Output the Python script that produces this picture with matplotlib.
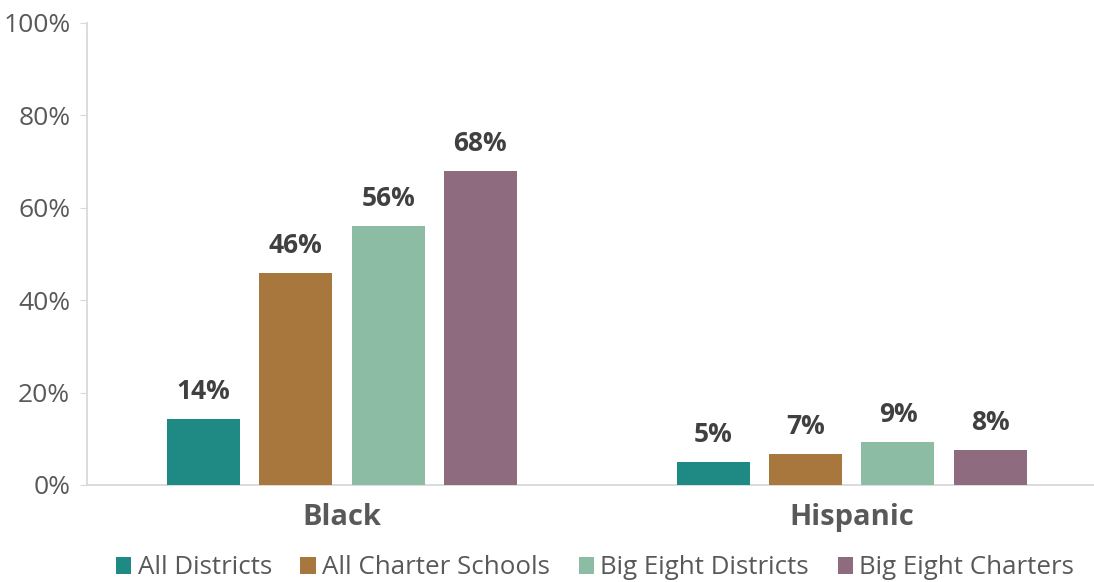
import matplotlib
matplotlib.use("Agg")
import matplotlib.pyplot as plt
import numpy as np

categories = ["Black", "Hispanic"]
series = ["All Districts", "All Charter Schools", "Big Eight Districts", "Big Eight Charters"]
values = {
    "All Districts": [14.3, 5.0],
    "All Charter Schools": [45.9, 6.7],
    "Big Eight Districts": [56.1, 9.3],
    "Big Eight Charters": [68.0, 7.6],
}
labels = {
    "All Districts": ["14%", "5%"],
    "All Charter Schools": ["46%", "7%"],
    "Big Eight Districts": ["56%", "9%"],
    "Big Eight Charters": ["68%", "8%"],
}
colors = ["#1F8A84", "#A8773E", "#8CBDA4", "#8F6B80"]
yticks = [0, 20, 40, 60, 80, 100]
ytick_labels = ["0%", "20%", "40%", "60%", "80%", "100%"]

plt.rcParams['font.family'] = ['Open Sans', 'DejaVu Sans']

W, H = 1094, 582
fig = plt.figure(figsize=(W / 100, H / 100), dpi=100)
ax = fig.add_axes([87 / W, 97 / H, (1094 - 87) / W, 462 / H])

x = np.arange(len(categories))
bw = 0.143
step = 0.181
for i, s in enumerate(series):
    pos = x + (i - 1.5) * step
    bars = ax.bar(pos, values[s], width=bw, color=colors[i], label=s, zorder=3)
    for b, lab in zip(bars, labels[s]):
        ax.text(b.get_x() + b.get_width() / 2, b.get_height() + 3.0, lab,
                ha="center", va="bottom", fontsize=19, fontweight="bold", color="#404040")

ax.set_xlim(-0.5, 1.475)
ax.set_ylim(0, 100)
ax.set_yticks(yticks)
ax.set_yticklabels(ytick_labels)
ax.set_xticks(x)
ax.set_xticklabels(categories, fontsize=21, fontweight="bold", color="#595959")
ax.tick_params(axis="x", length=0, pad=13)
ax.tick_params(axis="y", length=5, color="#D9D9D9", labelsize=19, labelcolor="#595959", pad=7)
for sp in ["top", "right"]:
    ax.spines[sp].set_visible(False)
ax.spines["left"].set_color("#D9D9D9")
ax.spines["bottom"].set_color("#D9D9D9")
ax.spines["left"].set_linewidth(1.3)
ax.spines["bottom"].set_linewidth(1.3)

leg = fig.legend(loc="center", bbox_to_anchor=(595 / W, 1 - 568 / H), ncol=4, frameon=False,
                 fontsize=18.6, handlelength=0.6, handleheight=0.6, handletextpad=0.25,
                 columnspacing=1.1, labelcolor="#595959")

fig.savefig("out.png", dpi=100)
